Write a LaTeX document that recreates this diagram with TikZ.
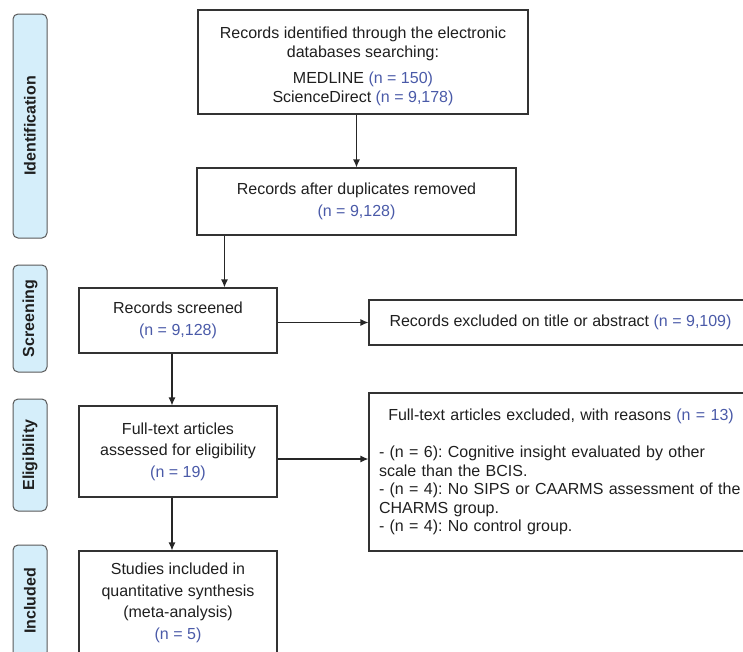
\documentclass[tikz,border=0pt]{standalone}
\usepackage{fontspec}
\setmainfont{Liberation Sans}
\frenchspacing
\usepackage{xcolor}
\usepackage{tikz}
\usetikzlibrary{positioning, arrows.meta}
\definecolor{nblue}{HTML}{4A5AA8}
\definecolor{stagefill}{HTML}{D5EEFA}
\colorlet{stagedraw}{black!65}
\colorlet{boxdraw}{black!80}
\colorlet{boxtext}{black!88}
\tikzset{
  >=latex,
  box/.style={draw=boxdraw,line width=1.1pt,rectangle,align=center,text=boxtext,
    font=\fontsize{16}{21.5}\selectfont},
  box tight/.style={box,font=\fontsize{16}{19}\selectfont},
  stage/.style={draw=stagedraw,fill=stagefill,line width=1pt,rounded corners=5pt,
    rotate=90,minimum height=34,text=boxtext,font=\bfseries\fontsize{16}{19}\selectfont},
  connect arrow/.style={-{Latex[length=8,width=7]},line width=1.2pt,draw=black!85}
}
\newcommand{\num}[1]{\textcolor{nblue}{#1}}

\begin{document}
\begin{tikzpicture}[x=1pt,y=-1pt]
  \useasboundingbox (0,0) rectangle (743,651);
  \clip (0,0) rectangle (743,651);

  % Stage labels
  \node[stage,minimum width=224] (lid) at (30,126) {Identification};
  \node[stage,minimum width=107] (lsc) at (30,318.5) {Screening};
  \node[stage,minimum width=112] (lel) at (30,455) {Eligibility};
  \node[stage,minimum width=112] (lin) at (30,601) {Included};

  % Identification
  \node[box tight,minimum width=330,minimum height=104] (ident) at (363,62)
    {\rule{0pt}{21pt}Records identified through the electronic\\databases searching:\\[7pt]
     MEDLINE \num{(n = 150)}\\ScienceDirect \num{(n = 9,178)}};
  \node[box,minimum width=319,minimum height=67] (dup) at (356.5,201.5)
    {Records after duplicates removed\\\num{(n = 9,128)}};

  % Screening
  \node[box,minimum width=198,minimum height=65] (scr) at (178,320.5)
    {Records screened\\\num{(n = 9,128)}};
  \node[box,minimum width=383,minimum height=45] (excl1) at (560.5,322.5)
    {Records excluded on title or abstract \num{(n = 9,109)}};

  % Eligibility
  \node[box,align=left,text width=364,inner xsep=10,minimum width=382,minimum height=158,
    font=\fontsize{16}{18.5}\selectfont] (excl2) at (561,472)
    {\makebox[\linewidth]{Full-text articles excluded, with reasons \num{(n = 13)}}\\[18.5pt]
     - (n = 6): Cognitive insight evaluated by other\\scale than the BCIS.\\
     - (n = 4): No SIPS or CAARMS assessment of the\\CHARMS group.\\
     - (n = 4): No control group.};
  \node[box,minimum width=198,minimum height=91] (full) at (178,451.5)
    {Full-text articles\\assessed for eligibility\\\num{(n = 19)}};

  % Included
  \node[box,minimum width=198,minimum height=104] (incl) at (178,603)
    {Studies included in\\quantitative synthesis\\(meta-analysis)\\\num{(n = 5)}};

  % Connectors
  \coordinate (d1) at ([xshift=28pt]dup.south west);
  \coordinate (s1) at ([xshift=-6pt]scr.south);
  \coordinate (f1) at ([yshift=-7.5pt]full.east);
  \coordinate (f2) at ([xshift=-6pt]full.south);
  \draw[connect arrow] (ident.south -| dup.north) -- (dup.north);
  \draw[connect arrow] (d1) -- (d1 |- scr.north);
  \draw[connect arrow] (excl1.west -| scr.east) -- (excl1.west);
  \draw[connect arrow] (s1) -- (s1 |- full.north);
  \draw[connect arrow] (f1) -- (f1 -| excl2.west);
  \draw[connect arrow] (f2) -- (f2 |- incl.north);

\end{tikzpicture}
\end{document}
